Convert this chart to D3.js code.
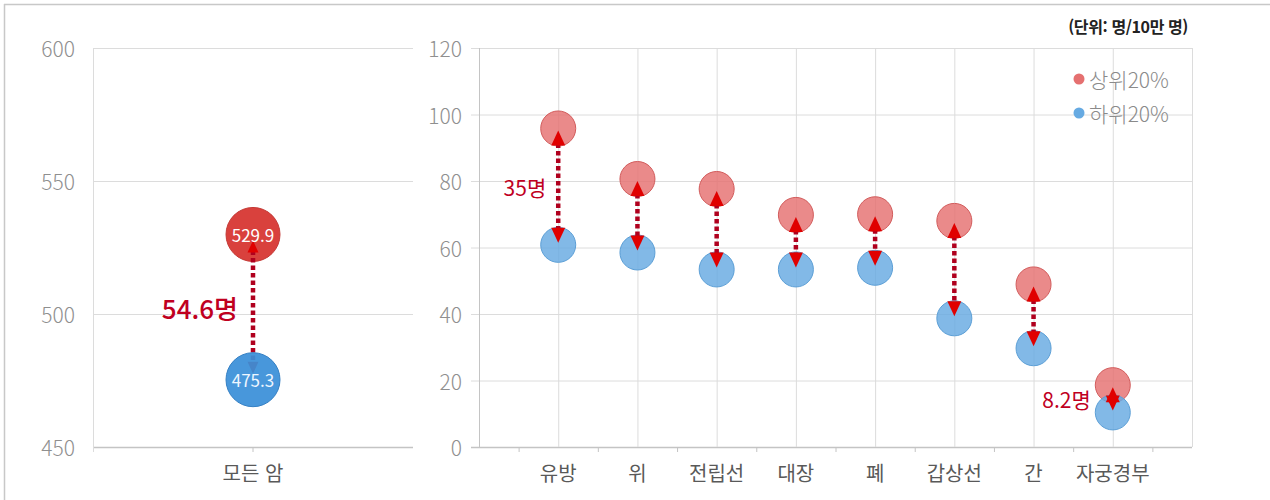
<!DOCTYPE html>
<html lang="ko">
<head>
<meta charset="utf-8">
<script src="https://cdn.jsdelivr.net/npm/d3@7"></script>
<style>
  html, body { margin: 0; padding: 0; background: #fff; }
  svg { display: block; font-family: "Noto Sans CJK KR", "Noto Sans", sans-serif; }
</style>
</head>
<body>
<svg id="chart" width="1270" height="500"></svg>
<script>
// ---- data ----
const allCategory = ["모든 암"];
const allTop = [529.9];
const allBottom = [475.3];
const allTicks = [450, 500, 550, 600];

const categories = ["유방", "위", "전립선", "대장", "폐", "갑상선", "간", "자궁경부"];
const top20 = [95.8, 80.6, 77.6, 69.8, 70.0, 68.0, 48.9, 18.6];
const bottom20 = [60.8, 58.5, 53.4, 53.4, 53.9, 38.7, 29.7, 10.4];
const valueTicks = [0, 20, 40, 60, 80, 100, 120];
const gapLabelCats = ["유방", "자궁경부"];

const seriesNames = ["상위20%", "하위20%"];
const unitText = "(단위: 명/10만 명)";

// ---- styles ----
const gridColor = "#dcdcdc";
const axisColor = "#c4c4c4";
const tickText = "#8f8f8f";
const catText = "#595959";
const gapColor = "#b0001e";
const headColor = "#e00000";
const fmtGap = d3.format(".1~f");

const svg = d3.select("#chart");

// outer frame (top and left edges)
svg.append("line").attr("x1", 4).attr("x2", 1270).attr("y1", 4.5).attr("y2", 4.5)
  .attr("stroke", "#c8c8c8").attr("stroke-width", 1.5);
svg.append("line").attr("x1", 4.5).attr("x2", 4.5).attr("y1", 4).attr("y2", 500)
  .attr("stroke", "#c8c8c8").attr("stroke-width", 1.5);

// double-headed dotted connector between two y positions
function gapArrow(g, x, yTop, yBot, head) {
  const tipTop = yTop + head.offset, tipBot = yBot - head.offset;
  g.append("line")
    .attr("x1", x).attr("x2", x)
    .attr("y1", tipTop + head.h - 2).attr("y2", tipBot - head.h + 2)
    .attr("stroke", gapColor).attr("stroke-width", head.lw)
    .attr("stroke-dasharray", head.dash);
  g.append("path")
    .attr("d", `M${x},${tipTop} L${x - head.w / 2},${tipTop + head.h} L${x + head.w / 2},${tipTop + head.h} Z`)
    .attr("fill", headColor);
  g.append("path")
    .attr("d", `M${x},${tipBot} L${x - head.w / 2},${tipBot - head.h} L${x + head.w / 2},${tipBot - head.h} Z`)
    .attr("fill", headColor);
}

// ================= left panel: all cancers =================
{
  const x0 = 93, x1 = 413, yT = 48, yB = 447;
  const y = d3.scaleLinear().domain([450, 600]).range([yB, yT]);
  const x = d3.scaleBand().domain(allCategory).range([x0, x1]);
  const g = svg.append("g");

  g.selectAll("line.grid").data(allTicks).join("line")
    .attr("x1", x0).attr("x2", x1)
    .attr("y1", d => y(d) + 0.5).attr("y2", d => y(d) + 0.5)
    .attr("stroke", d => d === 450 ? axisColor : gridColor).attr("stroke-width", d => d === 450 ? 1.5 : 1);
  g.append("line").attr("x1", x0 + 0.5).attr("x2", x0 + 0.5).attr("y1", yT).attr("y2", yB + 5)
    .attr("stroke", gridColor);
  g.append("line").attr("x1", x(allCategory[0]) + x.bandwidth() / 2).attr("x2", x(allCategory[0]) + x.bandwidth() / 2)
    .attr("y1", yB).attr("y2", yB + 5).attr("stroke", axisColor);

  g.selectAll("text.tick").data(allTicks).join("text")
    .attr("x", 75).attr("y", d => y(d))
    .attr("text-anchor", "end").attr("dominant-baseline", "central")
    .attr("font-size", 21).attr("font-weight", 300).attr("fill", tickText)
    .text(d => d);

  g.selectAll("text.cat").data(allCategory).join("text")
    .attr("x", d => x(d) + x.bandwidth() / 2).attr("y", 472)
    .attr("text-anchor", "middle").attr("dominant-baseline", "central")
    .attr("font-size", 20).attr("fill", catText)
    .text(d => d);

  const cx = x(allCategory[0]) + x.bandwidth() / 2;
  const r = 27;
  const yt = y(allTop[0]), yb = y(allBottom[0]);

  g.append("circle").attr("cx", cx).attr("cy", yt).attr("r", r)
    .attr("fill", "#d9413d").attr("stroke", "#c43a36").attr("stroke-width", 1);
  gapArrow(g, cx, yt, yb, { offset: 6, w: 11, h: 12, lw: 4.5, dash: "4.5,3" });
  g.append("circle").attr("cx", cx).attr("cy", yb).attr("r", r)
    .attr("fill", "#3a8fd8").attr("fill-opacity", 0.93).attr("stroke", "#3580c4").attr("stroke-width", 1);

  g.append("text").attr("x", cx).attr("y", yt).attr("text-anchor", "middle").attr("dominant-baseline", "central")
    .attr("font-size", 17).attr("fill", "#fff").text(allTop[0].toFixed(1));
  g.append("text").attr("x", cx).attr("y", yb).attr("text-anchor", "middle").attr("dominant-baseline", "central")
    .attr("font-size", 17).attr("fill", "#eef6ff").text(allBottom[0].toFixed(1));

  g.append("text").attr("x", cx - 15).attr("y", (yt + yb) / 2)
    .attr("text-anchor", "end").attr("dominant-baseline", "central")
    .attr("font-size", 26).attr("font-weight", 500).attr("fill", "#c0001f")
    .text(fmtGap(allTop[0] - allBottom[0]) + "명");
}

// ================= right panel: by cancer site =================
{
  const x0 = 479, x1 = 1192, yT = 48, yB = 447;
  const y = d3.scaleLinear().domain([0, 120]).range([yB, yT]);
  const x = d3.scalePoint().domain(categories).range([x0, x1]).padding(1);
  const step = x.step();
  const g = svg.append("g");

  // horizontal grid + left ticks
  g.selectAll("line.grid").data(valueTicks).join("line")
    .attr("x1", d => x0 - 8).attr("x2", x1)
    .attr("y1", d => y(d) + 0.5).attr("y2", d => y(d) + 0.5)
    .attr("stroke", d => d === 0 ? axisColor : gridColor).attr("stroke-width", d => d === 0 ? 1.5 : 1);
  // vertical grid at categories
  g.selectAll("line.vgrid").data(categories).join("line")
    .attr("x1", d => x(d) + 0.5).attr("x2", d => x(d) + 0.5).attr("y1", yT).attr("y2", yB)
    .attr("stroke", gridColor);
  // left axis and right frame
  g.append("line").attr("x1", x0 + 0.5).attr("x2", x0 + 0.5).attr("y1", yT).attr("y2", yB)
    .attr("stroke", axisColor);
  g.append("line").attr("x1", x1 + 0.5).attr("x2", x1 + 0.5).attr("y1", yT).attr("y2", yB)
    .attr("stroke", gridColor);
  // bottom ticks between categories
  const boundaries = categories.concat([null]).map((d, i) => x(categories[0]) - step / 2 + i * step);
  g.selectAll("line.xtick").data(boundaries).join("line")
    .attr("x1", d => d + 0.5).attr("x2", d => d + 0.5).attr("y1", yB).attr("y2", yB + 5)
    .attr("stroke", axisColor);

  g.selectAll("text.tick").data(valueTicks).join("text")
    .attr("x", 462).attr("y", d => y(d))
    .attr("text-anchor", "end").attr("dominant-baseline", "central")
    .attr("font-size", 21).attr("font-weight", 300).attr("fill", tickText)
    .text(d => d);

  g.selectAll("text.cat").data(categories).join("text")
    .attr("x", d => x(d)).attr("y", 472)
    .attr("text-anchor", "middle").attr("dominant-baseline", "central")
    .attr("font-size", 20).attr("fill", catText)
    .text(d => d);

  const r = 17.5;
  g.selectAll("circle.top").data(categories).join("circle")
    .attr("cx", d => x(d)).attr("cy", (d, i) => y(top20[i])).attr("r", r)
    .attr("fill", "#e57070").attr("fill-opacity", 0.82)
    .attr("stroke", "#d25c5c").attr("stroke-width", 1);
  g.selectAll("circle.bot").data(categories).join("circle")
    .attr("cx", d => x(d)).attr("cy", (d, i) => y(bottom20[i])).attr("r", r)
    .attr("fill", "#66aae2").attr("fill-opacity", 0.82)
    .attr("stroke", "#5c9fd6").attr("stroke-width", 1);

  categories.forEach((c, i) => {
    gapArrow(g, x(c), y(top20[i]), y(bottom20[i]), { offset: 2, w: 14, h: 15, lw: 4.5, dash: "4.5,3" });
  });

  gapLabelCats.forEach(c => {
    const i = categories.indexOf(c);
    const off = c === "자궁경부" ? 22 : 12;
    g.append("text").attr("x", x(c) - off).attr("y", (y(top20[i]) + y(bottom20[i])) / 2)
      .attr("text-anchor", "end").attr("dominant-baseline", "central")
      .attr("font-size", 21).attr("fill", "#c0001f")
      .text(fmtGap(top20[i] - bottom20[i]) + "명");
  });

  // legend
  const legColors = ["#e57070", "#66aae2"];
  const leg = g.selectAll("g.leg").data(seriesNames).join("g")
    .attr("transform", (d, i) => `translate(1079, ${79 + i * 34})`);
  leg.append("circle").attr("r", 5.5).attr("fill", (d, i) => legColors[i]);
  leg.append("text").attr("x", 10).attr("dominant-baseline", "central")
    .attr("font-size", 21).attr("font-weight", 300).attr("fill", "#8a8a8a").text(d => d);

  // unit note
  g.append("text").attr("x", 1188).attr("y", 26)
    .attr("text-anchor", "end").attr("dominant-baseline", "central")
    .attr("font-size", 16).attr("font-weight", 700).attr("fill", "#222")
    .attr("letter-spacing", -0.4)
    .text(unitText);
}
</script>
</body>
</html>
